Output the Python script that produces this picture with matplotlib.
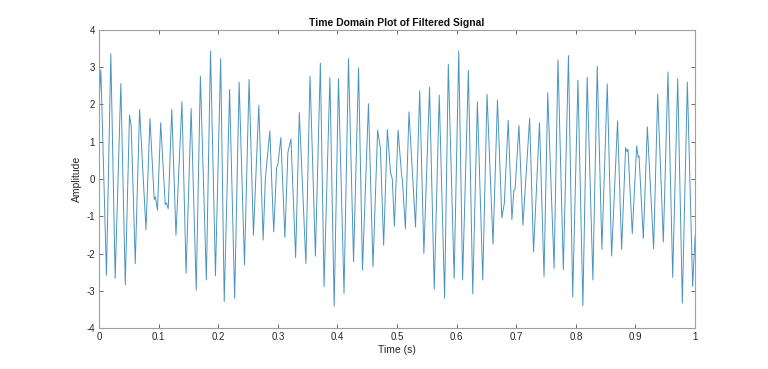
import matplotlib
matplotlib.use("Agg")
import matplotlib.pyplot as plt
import numpy as np

# peaks, troughs and small kinks
t_pts = [0.000, 0.003, 0.0124, 0.0197, 0.027, 0.0365, 0.044, 0.051, 0.054, 0.0607,
         0.068, 0.0787, 0.0854, 0.0925, 0.0945, 0.098, 0.1034, 0.111, 0.113, 0.116,
         0.122, 0.129, 0.139, 0.146, 0.1545, 0.163, 0.170, 0.180, 0.187, 0.1953,
         0.204, 0.210, 0.219, 0.2275, 0.235, 0.244, 0.2517, 0.259, 0.268, 0.2753,
         0.279, 0.2865, 0.293, 0.298, 0.300, 0.305, 0.3118, 0.3168, 0.322, 0.3298,
         0.336, 0.347, 0.354, 0.363, 0.3713, 0.3775, 0.3873, 0.3945, 0.4017, 0.411,
         0.4185, 0.427, 0.4354, 0.442, 0.452, 0.4596, 0.4674, 0.472, 0.4775, 0.4837,
         0.489, 0.492, 0.4955, 0.5017, 0.5075, 0.509, 0.514, 0.520, 0.531, 0.538,
         0.545, 0.5545, 0.5624, 0.5708, 0.5798, 0.586, 0.5958, 0.6035, 0.610, 0.6197,
         0.627, 0.6348, 0.6438, 0.651, 0.661, 0.6685, 0.6758, 0.680, 0.6865, 0.6927,
         0.696, 0.698, 0.7045, 0.7112, 0.7225, 0.729, 0.739, 0.7466, 0.7528, 0.7635,
         0.770, 0.779, 0.7876, 0.7947, 0.8035, 0.8118, 0.819, 0.8286, 0.8359, 0.8437,
         0.8527, 0.860, 0.870, 0.8768, 0.8835, 0.886, 0.8875, 0.8947, 0.902, 0.9045,
         0.906, 0.9132, 0.920, 0.9305, 0.9373, 0.9468, 0.9546, 0.9625, 0.9709, 0.9787,
         0.9871, 0.996, 1.000]
amp = [2.05, 2.93, -2.58, 3.36, -2.67, 2.56, -2.84, 1.72, 1.40, -2.27,
       1.87, -1.36, 1.62, -0.55, -0.48, -0.84, 1.51, -0.69, -0.64, -0.80,
       1.87, -1.51, 2.07, -2.53, 1.89, -2.98, 2.76, -2.71, 3.43, -2.60,
       3.23, -3.29, 2.40, -3.20, 2.60, -2.31, 2.67, -1.51, 1.98, -1.64,
       0.00, 1.29, -1.42, 0.31, 0.38, 1.11, -1.57, 0.71, 1.07, -2.11,
       1.78, -2.27, 2.76, -2.07, 3.11, -2.89, 2.73, -3.42, 2.69, -3.07,
       3.23, -2.22, 2.98, -2.44, 2.02, -2.36, 1.31, 0.84, -1.78, 1.33,
       0.18, 0.00, -1.27, 1.31, 0.13, -0.05, -1.33, 1.80, -1.29, 2.37,
       -2.00, 2.46, -2.96, 2.25, -3.20, 3.08, -2.67, 3.44, -2.71, 2.91,
       -3.08, 2.07, -2.71, 2.27, -1.75, 2.12, -1.04, -0.65, 1.57, -1.09,
       -0.31, -0.29, 1.44, -1.24, 1.63, -1.96, 1.51, -2.62, 2.31, -2.40,
       3.20, -2.44, 3.31, -3.17, 2.65, -3.40, 2.73, -2.71, 3.02, -1.89,
       2.55, -2.07, 1.56, -1.89, 0.84, 0.73, 0.80, -1.47, 0.89, 0.58,
       0.62, -1.60, 1.40, -1.87, 2.28, -1.69, 2.87, -2.64, 2.69, -3.33,
       2.60, -2.89, -1.54]

x_ticks = np.arange(0, 1.01, 0.1)
x_labels = ["0", "0.1", "0.2", "0.3", "0.4", "0.5", "0.6", "0.7", "0.8", "0.9", "1"]
y_ticks = [-4, -3, -2, -1, 0, 1, 2, 3, 4]

plt.rcParams['font.family'] = ['Liberation Sans', 'DejaVu Sans']
plt.rcParams['axes.unicode_minus'] = False

fig = plt.figure(figsize=(7.68, 3.69), dpi=100)
ax = fig.add_axes([0.129, 0.111, 0.776, 0.808])

ax.plot(t_pts, amp, color='#4a94c0', linewidth=0.7)

ax.set_xlim(0, 1)
ax.set_ylim(-4, 4)
ax.set_xticks(x_ticks)
ax.set_xticklabels(x_labels)
ax.set_yticks(y_ticks)

# estilo parecido com o do MATLAB
for s in ax.spines.values():
    s.set_color('#a0a0a0')
    s.set_linewidth(0.8)
ax.tick_params(direction='in', length=3, width=0.6, color='#505050',
               labelsize=7, labelcolor='#262626', top=True, right=True, pad=3)

ax.set_xlabel("Time (s)", fontsize=7.5, color='#262626', labelpad=2)
ax.set_ylabel("Amplitude", fontsize=7.5, color='#262626', labelpad=3)
ax.set_title("Time Domain Plot of Filtered Signal", fontsize=7.5,
             fontweight='bold', color='#111111', pad=3)

fig.savefig("out.png", dpi=100)
